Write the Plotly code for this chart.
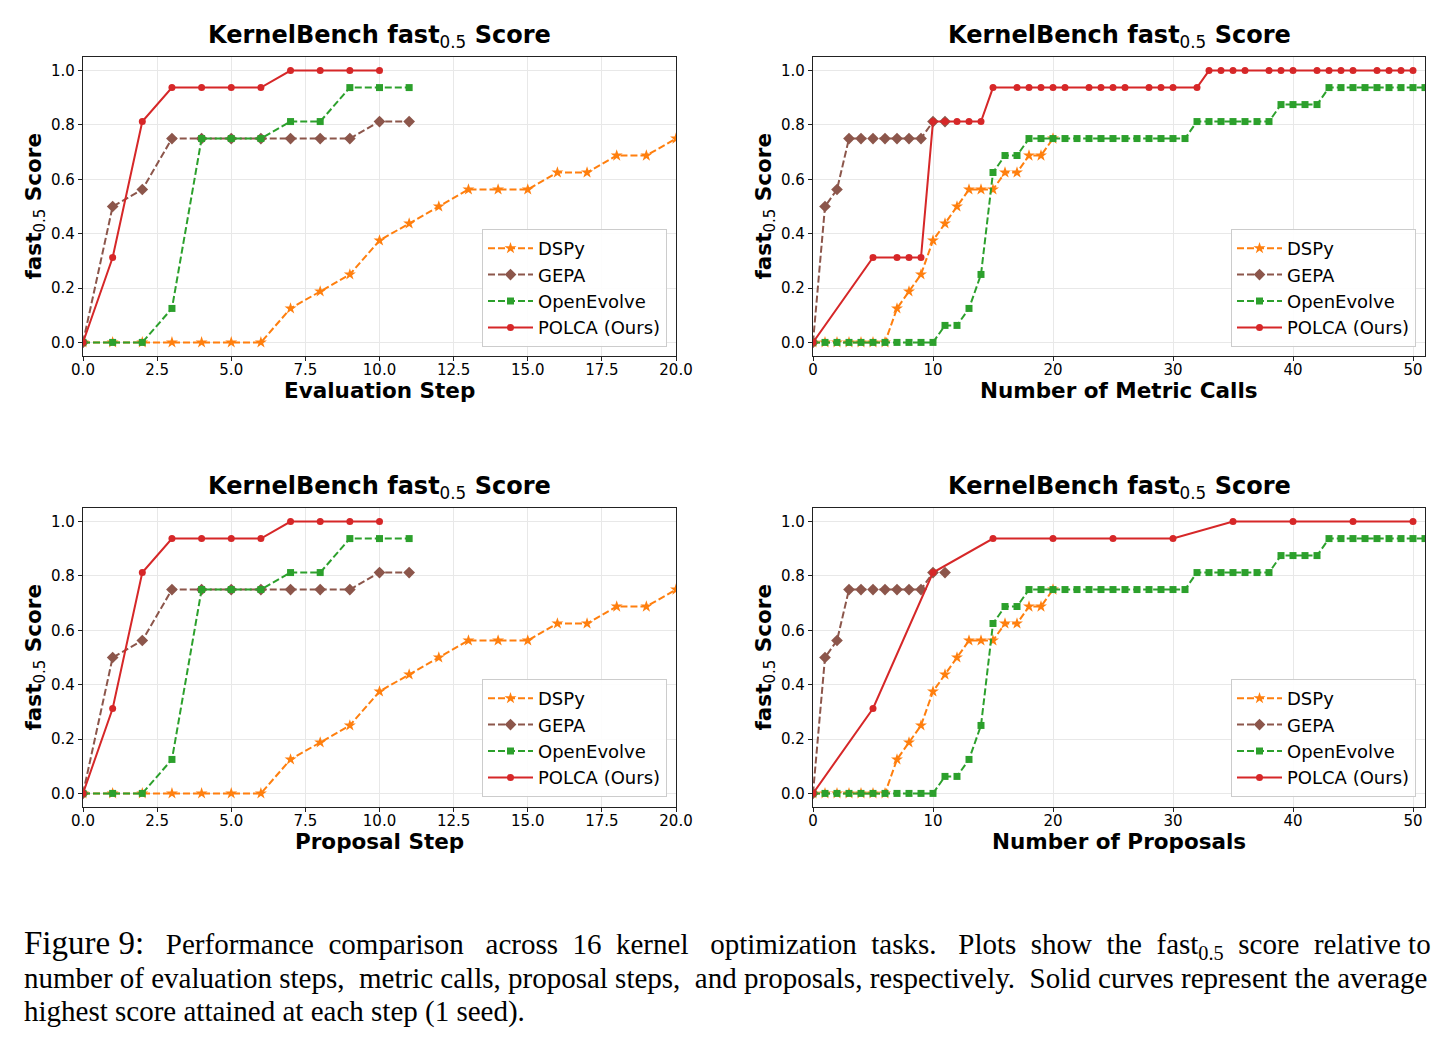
import plotly.graph_objects as go

# ---------------- data ----------------
series_names = ["DSPy", "GEPA", "OpenEvolve", "POLCA (Ours)"]

# Evaluation step / Proposal step panels
step_dspy_x = [0, 1, 2, 3, 4, 5, 6, 7, 8, 9, 10, 11, 12, 13, 14, 15, 16, 17, 18, 19, 20]
step_dspy_y = [0, 0, 0, 0, 0, 0, 0, 0.125, 0.1875, 0.25, 0.375, 0.4375, 0.5, 0.5625, 0.5625,
               0.5625, 0.625, 0.625, 0.6875, 0.6875, 0.75]
step_gepa_x = [0, 1, 2, 3, 4, 5, 6, 7, 8, 9, 10, 11]
step_gepa_y = [0, 0.5, 0.5625, 0.75, 0.75, 0.75, 0.75, 0.75, 0.75, 0.75, 0.8125, 0.8125]
step_oe_x = [0, 1, 2, 3, 4, 5, 6, 7, 8, 9, 10, 11]
step_oe_y = [0, 0, 0, 0.125, 0.75, 0.75, 0.75, 0.8125, 0.8125, 0.9375, 0.9375, 0.9375]
step_polca_x = [0, 1, 2, 3, 4, 5, 6, 7, 8, 9, 10]
step_polca_y = [0, 0.3125, 0.8125, 0.9375, 0.9375, 0.9375, 0.9375, 1.0, 1.0, 1.0, 1.0]

# Metric calls / Proposals panels
calls_dspy_x = [0, 1, 2, 3, 4, 5, 6, 7, 8, 9, 10, 11, 12, 13, 14, 15, 16, 17, 18, 19, 20]
calls_dspy_y = [0, 0, 0, 0, 0, 0, 0, 0.125, 0.1875, 0.25, 0.375, 0.4375, 0.5, 0.5625, 0.5625,
                0.5625, 0.625, 0.625, 0.6875, 0.6875, 0.75]
calls_gepa_x = [0, 1, 2, 3, 4, 5, 6, 7, 8, 9, 10, 11]
calls_gepa_y = [0, 0.5, 0.5625, 0.75, 0.75, 0.75, 0.75, 0.75, 0.75, 0.75, 0.8125, 0.8125]
calls_oe_x = [0, 1, 2, 3, 4, 5, 6, 7, 8, 9, 10, 11, 12, 13, 14, 15, 16, 17, 18, 19, 20, 21,
              22, 23, 24, 25, 26, 27, 28, 29, 30, 31, 32, 33, 34, 35, 36, 37, 38, 39, 40, 41,
              42, 43, 44, 45, 46, 47, 48, 49, 50, 51]
calls_oe_y = [0, 0, 0, 0, 0, 0, 0, 0, 0, 0, 0, 0.0625, 0.0625, 0.125, 0.25, 0.625, 0.6875,
              0.6875, 0.75, 0.75, 0.75, 0.75, 0.75, 0.75, 0.75, 0.75, 0.75, 0.75, 0.75, 0.75,
              0.75, 0.75, 0.8125, 0.8125, 0.8125, 0.8125, 0.8125, 0.8125, 0.8125, 0.875, 0.875,
              0.875, 0.875, 0.9375, 0.9375, 0.9375, 0.9375, 0.9375, 0.9375, 0.9375, 0.9375, 0.9375]
calls_polca_x = [0, 5, 7, 8, 9, 10, 11, 12, 13, 14, 15, 17, 18, 19, 20, 21, 23, 24, 25, 26,
                 28, 29, 30, 32, 33, 34, 35, 36, 38, 39, 40, 42, 43, 44, 45, 47, 48, 49, 50]
calls_polca_y = [0, 0.3125, 0.3125, 0.3125, 0.3125, 0.8125, 0.8125, 0.8125, 0.8125, 0.8125,
                 0.9375, 0.9375, 0.9375, 0.9375, 0.9375, 0.9375, 0.9375, 0.9375, 0.9375, 0.9375,
                 0.9375, 0.9375, 0.9375, 0.9375, 1.0, 1.0, 1.0, 1.0, 1.0, 1.0, 1.0, 1.0, 1.0,
                 1.0, 1.0, 1.0, 1.0, 1.0, 1.0]
prop_polca_x = [0, 5, 10, 15, 20, 25, 30, 35, 40, 45, 50]
prop_polca_y = [0, 0.3125, 0.8125, 0.9375, 0.9375, 0.9375, 0.9375, 1.0, 1.0, 1.0, 1.0]

step_ticks = [0, 2.5, 5, 7.5, 10, 12.5, 15, 17.5, 20]
calls_ticks = [0, 10, 20, 30, 40, 50]
y_ticks = [0, 0.2, 0.4, 0.6, 0.8, 1.0]

x_labels = ["Evaluation Step", "Number of Metric Calls", "Proposal Step", "Number of Proposals"]

# ---------------- layout helpers ----------------
W, H = 1450, 1041
FONT = "DejaVu Sans"


def fx(p):
    return p / W


def fy(p):
    return 1 - p / H


styles = {
    "DSPy": dict(color="#ff7f0e", symbol="star", size=9, dash="7px,3px"),
    "GEPA": dict(color="#8c564b", symbol="diamond", size=9, dash="7px,3px"),
    "OpenEvolve": dict(color="#2ca02c", symbol="square", size=7, dash="7px,3px"),
    "POLCA (Ours)": dict(color="#d62728", symbol="circle", size=7, dash="solid"),
}

panels = [
    dict(xd=(83, 676), yd=(57, 356), xr=[0, 20], ticks=step_ticks, fmt=".1f",
         data=[(step_dspy_x, step_dspy_y), (step_gepa_x, step_gepa_y),
               (step_oe_x, step_oe_y), (step_polca_x, step_polca_y)],
         leg=(667, 347)),
    dict(xd=(813, 1425), yd=(57, 356), xr=[0, 51], ticks=calls_ticks, fmt="d",
         data=[(calls_dspy_x, calls_dspy_y), (calls_gepa_x, calls_gepa_y),
               (calls_oe_x, calls_oe_y), (calls_polca_x, calls_polca_y)],
         leg=(1416, 347)),
    dict(xd=(83, 676), yd=(508, 807), xr=[0, 20], ticks=step_ticks, fmt=".1f",
         data=[(step_dspy_x, step_dspy_y), (step_gepa_x, step_gepa_y),
               (step_oe_x, step_oe_y), (step_polca_x, step_polca_y)],
         leg=(667, 797)),
    dict(xd=(813, 1425), yd=(508, 807), xr=[0, 51], ticks=calls_ticks, fmt="d",
         data=[(calls_dspy_x, calls_dspy_y), (calls_gepa_x, calls_gepa_y),
               (calls_oe_x, calls_oe_y), (prop_polca_x, prop_polca_y)],
         leg=(1416, 797)),
]

fig = go.Figure()
annotations = []
layout_axes = {}

for i, p in enumerate(panels):
    n = "" if i == 0 else str(i + 1)
    xa, ya = "x" + n, "y" + n
    legname = "legend" + n
    for name, (xs, ys) in zip(series_names, p["data"]):
        s = styles[name]
        fig.add_trace(go.Scatter(
            x=xs, y=ys, mode="lines+markers", name=name,
            xaxis=xa, yaxis=ya, legend=legname,
            line=dict(color=s["color"], width=2, dash=s["dash"]),
            marker=dict(symbol=s["symbol"], size=s["size"], color=s["color"],
                        line=dict(width=0)),
        ))
    common = dict(showline=True, mirror=True, linecolor="#222", linewidth=1.2,
                  ticks="outside", ticklen=4, tickwidth=1, tickcolor="#222",
                  showgrid=True, gridcolor="#e8e8e8", gridwidth=1, zeroline=False,
                  automargin=False,
                  tickfont=dict(family=FONT, size=15, color="black"))
    layout_axes["xaxis" + n] = dict(
        common, domain=[fx(p["xd"][0]), fx(p["xd"][1])], range=p["xr"],
        tickvals=p["ticks"], tickformat=p["fmt"], anchor=ya, ticklabelstandoff=-4)
    layout_axes["yaxis" + n] = dict(
        common, domain=[fy(p["yd"][1]), fy(p["yd"][0])], range=[-0.05, 1.05],
        tickvals=y_ticks, tickformat=".1f", anchor=xa)
    layout_axes[legname] = dict(
        x=fx(p["leg"][0]), y=fy(p["leg"][1]), xanchor="right", yanchor="bottom",
        xref="paper", yref="paper",
        bgcolor="rgba(255,255,255,0.88)", bordercolor="#cccccc", borderwidth=1,
        font=dict(family=FONT, size=18, color="black"), itemwidth=45,
        tracegroupgap=0)
    cx = (p["xd"][0] + p["xd"][1]) / 2
    cy = (p["yd"][0] + p["yd"][1]) / 2
    # title
    annotations.append(dict(
        text="<b>KernelBench fast</b><sub>0.5</sub><b> Score</b>",
        x=fx(cx), y=fy(p["yd"][0] - 21), xref="paper", yref="paper",
        xanchor="center", yanchor="middle", showarrow=False,
        font=dict(family=FONT, size=24, color="black")))
    # x label
    annotations.append(dict(
        text="<b>" + x_labels[i] + "</b>",
        x=fx(cx), y=fy(p["yd"][1] + 34), xref="paper", yref="paper",
        xanchor="center", yanchor="middle", showarrow=False,
        font=dict(family=FONT, size=21.5, color="black")))
    # y label
    annotations.append(dict(
        text="<b>fast</b><sub>0.5</sub><b> Score</b>",
        x=fx(p["xd"][0] - 48), y=fy(cy), xref="paper", yref="paper",
        xanchor="center", yanchor="middle", showarrow=False, textangle=-90,
        font=dict(family=FONT, size=21.5, color="black")))

# caption
SERIF = "Liberation Serif"
SP = "&nbsp;"
cap_lines = [
    "<span style='font-size:33px'>Figure 9:</span> " + SP + SP + "Performance " + SP
    + "comparison " + SP + SP + "across " + SP + "16 " + SP + "kernel " + SP + SP
    + "optimization " + SP + "tasks. " + SP + SP + "Plots " + SP + "show " + SP + "the "
    + SP + "fast<sub>0.5</sub> " + SP + "score " + SP + "relative to",
    "number of evaluation steps, " + SP + "metric calls, proposal steps, " + SP
    + "and proposals, respectively. " + SP + "Solid curves represent the average",
    "highest score attained at each step (1 seed).",
]
cap_y = [944, 978, 1011]
for t, yy in zip(cap_lines, cap_y):
    annotations.append(dict(
        text=t, x=fx(22), y=fy(yy), xref="paper", yref="paper",
        xanchor="left", yanchor="middle", showarrow=False,
        font=dict(family=SERIF, size=29, color="black")))

fig.update_layout(
    width=W, height=H, margin=dict(l=0, r=0, t=0, b=0, autoexpand=False),
    paper_bgcolor="white", plot_bgcolor="white",
    showlegend=True, annotations=annotations, **layout_axes)

fig.write_html("out.html", post_script="document.body.style.margin='0';")
